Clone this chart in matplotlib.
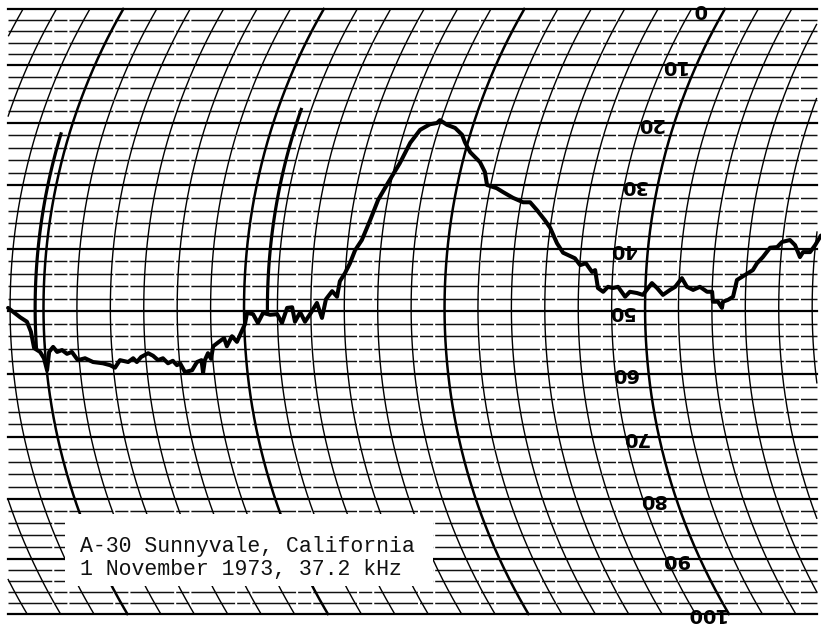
import numpy as np
import matplotlib
matplotlib.use('Agg')
from matplotlib import pyplot as plt
from matplotlib.patches import Rectangle

#%%
# scale printed on the chart paper (percent of full scale) and where each
# printed line sits on the scan, top to bottom
amp_marks = [0, 10, 20, 30, 40, 50, 60, 70, 80, 90, 100]
amp_rows = [9, 65, 123, 185, 249, 311, 374, 437, 499, 559, 614]

# pen trace: time in chart divisions (6 per hour line), amplitude in %
t_div = [-1.06, -0.70, -0.50, -0.39, -0.32, -0.15, -0.05, 0.01, 0.12, 0.25,
         0.36, 0.51, 0.65, 0.80, 0.96, 1.18, 1.41, 1.70, 1.91, 2.05,
         2.22, 2.46, 2.62, 2.72, 2.86, 3.08, 3.22, 3.36, 3.51, 3.65,
         3.80, 3.91, 4.01, 4.13, 4.35, 4.52, 4.66, 4.67, 4.76, 4.87,
         4.95, 5.04, 5.22, 5.38, 5.45, 5.62, 5.76, 5.89, 6.02, 6.09,
         6.27, 6.41, 6.57, 6.78, 6.99, 7.13, 7.29, 7.44, 7.52, 7.68,
         7.82, 8.00, 8.18, 8.33, 8.45, 8.63, 8.78, 8.85, 8.99, 9.12,
         9.24, 9.41, 9.58, 9.72, 9.91, 10.13, 10.28, 10.46, 10.70, 10.90,
         10.96, 11.22, 11.49, 11.76, 11.91, 12.15, 12.52, 12.74, 12.89, 13.20,
         13.41, 13.74, 14.07, 14.28, 14.52, 14.81, 15.00, 15.26, 15.47, 15.84,
         16.01, 16.18, 16.38, 16.47, 16.58, 16.74, 16.88, 17.03, 17.18, 17.40,
         17.54, 17.75, 17.93, 18.08, 18.19, 18.35, 18.53, 18.74, 18.89, 19.08,
         19.24, 19.43, 19.63, 19.85, 20.00, 20.03, 20.18, 20.30, 20.33, 20.48,
         20.63, 20.73, 20.96, 21.19, 21.30, 21.46, 21.65, 21.86, 21.99, 22.22,
         22.39, 22.57, 22.65, 22.86, 22.99, 23.13]
amp = [49.5, 51.0, 51.7, 53.3, 55.9, 56.5, 57.5, 59.4, 56.5, 55.7,
       56.5, 56.2, 56.8, 56.5, 57.8, 57.5, 58.1, 58.3, 58.6, 59.0,
       57.8, 58.1, 57.5, 58.1, 57.3, 56.7, 57.1, 57.8, 57.5, 58.3,
       57.9, 58.6, 58.3, 59.7, 59.4, 58.1, 57.8, 59.8, 57.8, 56.7,
       57.6, 55.6, 54.9, 54.3, 55.6, 54.0, 54.9, 53.5, 52.1, 50.3,
       50.5, 51.9, 50.3, 50.6, 50.5, 51.9, 49.5, 49.4, 51.7, 50.2,
       51.7, 50.3, 48.7, 51.1, 48.1, 46.8, 47.7, 45.2, 43.9, 42.3,
       40.2, 38.6, 35.5, 32.3, 29.7, 26.5, 23.2, 21.1, 20.2, 20.0,
       19.5, 20.3, 20.8, 21.9, 23.1, 24.7, 26.3, 27.9, 30.0, 30.5,
       31.1, 32.0, 32.7, 32.7, 33.9, 35.5, 36.7, 39.1, 40.6, 41.5,
       42.6, 42.3, 43.7, 43.4, 46.3, 46.9, 46.1, 46.3, 46.1, 47.7,
       46.9, 47.1, 47.4, 46.3, 45.5, 46.3, 47.4, 46.6, 46.1, 44.7,
       46.1, 46.6, 46.1, 46.9, 46.9, 48.5, 48.5, 49.5, 48.5, 48.2,
       47.7, 45.0, 44.2, 43.4, 42.3, 41.3, 39.8, 39.7, 38.9, 38.6,
       39.4, 41.3, 40.5, 40.5, 39.4, 37.9]

# time-mark pen excursions (time, top, bottom)
mark_t = [-0.25, 6.70]
mark_top = [21.5, 17.4]
mark_bot = [55.9, 50.3]

caption = ['A-30 Sunnyvale, California', '1 November 1973, 37.2 kHz']

#%%
PX_DIV = 33.42     # pixels per time division on the scan
X0 = 43.5          # pixel column of the t=0 hour line at mid height
R_PEN = 600.0      # pen arm radius, pixels
Y_PIVOT = 308.0    # row where the arcs are vertical

A_EXT = [-20] + amp_marks + [120]
P_EXT = [9 - 112] + amp_rows + [614 + 112]

def fwd(a):
    return np.interp(a, A_EXT, P_EXT)

def inv(p):
    return np.interp(p, P_EXT, A_EXT)

def bow(a):
    dy = fwd(np.asarray(a, dtype=float)) - Y_PIVOT
    return (R_PEN - np.sqrt(R_PEN**2 - dy**2)) / PX_DIV

fig = plt.figure(figsize=(8.21, 6.27), dpi=100)
ax = fig.add_axes([0, 0, 1, 1])
ax.set_yscale('function', functions=(fwd, inv))
ax.set_xlim(-X0 / PX_DIV, (821 - X0) / PX_DIV)
ax.set_ylim(inv(627), inv(0))
ax.axis('off')

x_left = (8 - X0) / PX_DIV
x_right = (817 - X0) / PX_DIV

# horizontal amplitude lines
for a in range(0, 101, 2):
    if a % 10 == 0:
        ax.plot([x_left, x_right], [a, a], color='black', lw=1.6, zorder=1)
    else:
        ax.plot([x_left, x_right], [a, a], color='#111111', lw=1.05,
                dashes=(30, 1.4, 9, 1.4), zorder=1)

# curved time lines
aa = np.linspace(0, 100, 400)
for k in range(-4, 26):
    tt = k + bow(aa)
    tt = np.where((tt >= x_left) & (tt <= x_right), tt, np.nan)
    heavy = (k % 6 == 0)
    ax.plot(tt, aa, color='black', lw=1.8 if heavy else 1.0, zorder=1)

# time marks
for tm, top, bot in zip(mark_t, mark_top, mark_bot):
    am = np.linspace(top, bot, 80)
    ax.plot(tm + bow(am), am, color='black', lw=2.3, zorder=3,
            solid_capstyle='butt')

# scale numbers, printed upside down along the hour line
for v in amp_marks:
    ax.text(18 + bow(v) - 0.72, v, str(v), rotation=180, rotation_mode='anchor',
            ha='center', va='center', fontsize=14, fontweight='bold',
            color='black', zorder=4)

# the recording
t = np.array(t_div)
a = np.array(amp)
ax.plot(t + bow(a), a, color='black', lw=2.9, solid_joinstyle='round',
        solid_capstyle='round', zorder=3)

# caption block
ax.add_patch(Rectangle(((65 - X0) / PX_DIV, inv(514)),
                       (433 - 65) / PX_DIV, inv(586) - inv(514),
                       facecolor='white', edgecolor='none', zorder=2))
ax.text((80 - X0) / PX_DIV, inv(552), caption[0], family='Liberation Mono',
        fontsize=15.5, va='baseline', ha='left', color='#111111', zorder=5)
ax.text((80 - X0) / PX_DIV, inv(575), caption[1], family='Liberation Mono',
        fontsize=15.5, va='baseline', ha='left', color='#111111', zorder=5)

plt.savefig('out.png', dpi=100)
